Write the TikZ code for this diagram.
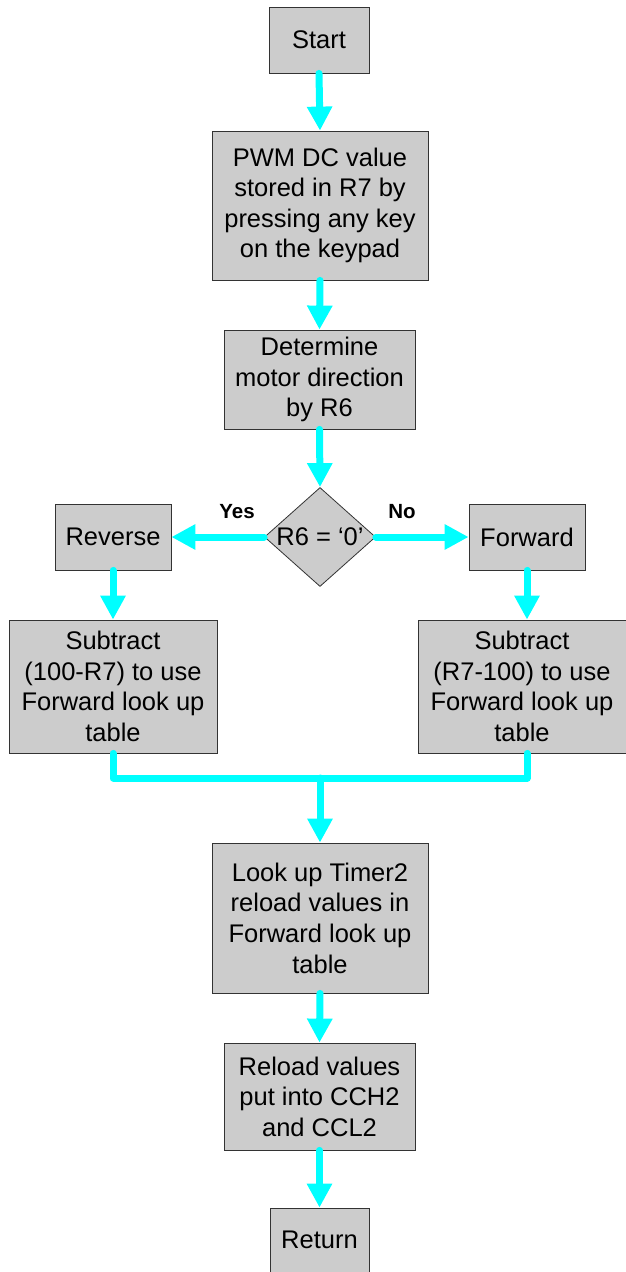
\documentclass[tikz,border=0pt]{standalone}
\usepackage{fontspec}
\setmainfont{Liberation Sans}
\usetikzlibrary{arrows.meta,shapes.geometric}
\definecolor{boxgray}{HTML}{CCCCCC}
\definecolor{edgegray}{HTML}{333333}
\definecolor{flowcyan}{HTML}{00FFFF}
\tikzset{
  procbox/.style={draw=edgegray, line width=0.8pt, fill=boxgray, inner sep=0pt, align=center,
    font=\fontsize{25.5pt}{30.6pt}\selectfont},
  flow/.style={draw=flowcyan, line width=7pt, line cap=round, line join=round},
  flowarrow/.style={flow, -{Triangle[width=24pt,length=24pt]}},
  yesno/.style={font=\bfseries\fontsize{20.5pt}{24pt}\selectfont, inner sep=0pt}
}
\begin{document}
\begin{tikzpicture}[x=1pt,y=-1pt]
\useasboundingbox (0,0) rectangle (626,1272);
\node[procbox, minimum width=100pt, minimum height=66pt] (start) at (319,40) {Start};
\node[procbox, minimum width=216pt, minimum height=149pt] (pwm) at (320,205.5) {PWM DC value\\stored in R7 by\\pressing any key\\on the keypad};
\node[procbox, minimum width=191pt, minimum height=99pt] (det) at (319.5,379.5) {Determine\\motor direction\\by R6};
\node[draw=edgegray, line width=0.8pt, fill=boxgray, diamond, inner sep=0pt, minimum width=111pt, minimum height=99pt] (dia) at (320,537) {};
\node[font=\fontsize{25.5pt}{30.6pt}\selectfont, inner sep=0pt] (diatext) at (dia.center) {R6 = ‘0’};
\node[procbox, minimum width=116pt, minimum height=66pt] (rev) at (113,537) {Reverse};
\node[procbox, minimum width=116pt, minimum height=66pt] (fwd) at (527,537) {Forward};
\node[yesno] (yes) at (237,512) {Yes};
\node[yesno] (no) at (402,512) {No};
\node[procbox, minimum width=208pt, minimum height=133pt] (subl) at (113,686.5) {Subtract\\(100-R7) to use\\Forward look up\\table};
\node[procbox, minimum width=208pt, minimum height=133pt] (subr) at (522,686.5) {Subtract\\(R7-100) to use\\Forward look up\\table};
\node[procbox, minimum width=216pt, minimum height=150pt] (look) at (320,918) {Look up Timer2\\reload values in\\Forward look up\\table};
\node[procbox, minimum width=191pt, minimum height=107pt] (reload) at (319.5,1096.5) {Reload values\\put into CCH2\\and CCL2};
\node[procbox, minimum width=99pt, minimum height=70pt] (ret) at (319.5,1243) {};
\node[font=\fontsize{25.5pt}{30.6pt}\selectfont, inner sep=0pt] (rettext) at (319.5,1240) {Return};
\coordinate (merge) at (320,778);
\coordinate (rjoin) at (fwd.south |- subr.south);
\draw[flowarrow] (start.south) -- (pwm.north);
\draw[flowarrow] (pwm.south) -- (det.north);
\draw[flowarrow] (det.south) -- (dia.north);
\draw[flowarrow] (dia.west) -- (rev.east);
\draw[flowarrow] (dia.east) -- (fwd.west);
\draw[flowarrow] (rev.south) -- (subl.north);
\draw[flowarrow] (fwd.south) -- (fwd.south |- subr.north);
\draw[flow] (subl.south) |- (merge) -| (rjoin);
\draw[flowarrow] (merge) -- (look.north);
\draw[flowarrow] (look.south) -- (reload.north);
\draw[flowarrow] (reload.south) -- (ret.north);
\end{tikzpicture}
\end{document}
